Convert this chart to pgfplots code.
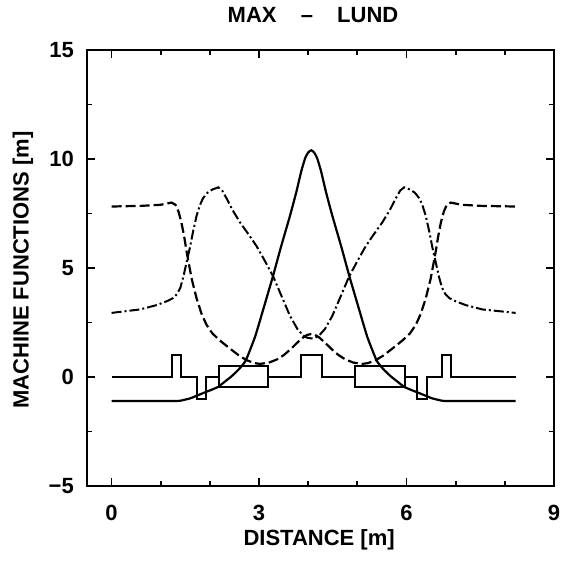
\documentclass[border=0pt]{standalone}
\usepackage{fontspec}
\setmainfont{Liberation Sans}
\usepackage{pgfplots}
\pgfplotsset{compat=1.18}
\begin{document}
\fontsize{22}{26}\selectfont\bfseries
\begin{tikzpicture}
\begin{axis}[
  scale only axis, width=467pt, height=436pt,
  xmin=-0.5, xmax=9, ymin=-5, ymax=15,
  xtick={0,3,6,9}, xticklabels={0,3,6,9},
  minor xtick={1,2,4,5,7,8},
  ytick={-5,0,5,10,15}, yticklabels={−5,0,5,10,15},
  minor ytick={-2.5,2.5,7.5,12.5},
  tick pos=both, tick align=inside,
  major tick length=8pt, minor tick length=5pt,
  every tick/.style={black, line width=1.8pt},
  axis line style={line width=2pt},
  font=\fontsize{22}{26}\selectfont\bfseries,
  tick label style={font=\fontsize{22}{26}\selectfont\bfseries, inner sep=0pt},
  xticklabel style={yshift=-19pt},
  yticklabel style={xshift=-13pt},
  title={MAX\hspace{1.1em}–\hspace{1.1em}LUND},
  title style={at={(axis description cs:0.484,1.0665)}, anchor=center, inner sep=0pt},
  xlabel={DISTANCE [m]},
  xlabel style={at={(axis description cs:0.497,-0.124)}, anchor=center},
  ylabel={MACHINE FUNCTIONS [m]},
  ylabel style={at={(axis description cs:-0.137,0.495)}, anchor=center},
  clip=false,
]
% lattice (magnet layout)
\addplot[black, line width=2pt, line join=miter] coordinates {
(0,0) (1.23,0) (1.23,1) (1.41,1) (1.41,0) (1.73,0) (1.73,-1) (1.93,-1) (1.93,0)
(2.18,0) (2.18,0.5) (3.18,0.5) (3.18,-0.48) (2.18,-0.48) (2.18,0.5) (3.18,0.5) (3.18,0)
(3.85,0) (3.85,1) (4.28,1) (4.28,0)
(4.96,0) (4.96,0.5) (5.96,0.5) (5.96,-0.48) (4.96,-0.48) (4.96,0.5) (5.96,0.5) (5.96,0)
(6.22,0) (6.22,-1) (6.42,-1) (6.42,0) (6.73,0) (6.73,1) (6.91,1) (6.91,0) (8.22,0)
};
% solid curve (dispersion)
\addplot[black, line width=2.2pt, smooth, tension=0.3] coordinates {
(0,-1.1) (1.3,-1.1) (1.45,-1.06) (1.6,-0.98) (1.73,-0.86) (1.85,-0.75) (1.95,-0.66)
(2.05,-0.57) (2.17,-0.45) (2.3,-0.22) (2.45,0.05) (2.6,0.38) (2.72,0.72) (2.81,1.2)
(2.92,1.85) (3.02,2.6) (3.15,3.6) (3.28,4.6) (3.45,6.0) (3.63,7.4) (3.76,8.5)
(3.86,9.45) (3.94,10.05) (4.0,10.3) (4.06,10.4)
(4.12,10.3) (4.18,10.05) (4.26,9.45) (4.36,8.5) (4.49,7.4) (4.67,6.0) (4.84,4.6)
(4.97,3.6) (5.10,2.6) (5.20,1.85) (5.31,1.2) (5.40,0.72) (5.52,0.38) (5.67,0.05)
(5.82,-0.22) (5.95,-0.45) (6.07,-0.57) (6.17,-0.66) (6.27,-0.75) (6.39,-0.86)
(6.52,-0.98) (6.67,-1.06) (6.82,-1.1) (8.22,-1.1)
};
% dashed curve
\addplot[black, line width=2.2pt, dash pattern=on 10pt off 4pt] coordinates {
(0,7.82) (0.6,7.85) (1.0,7.9) (1.22,8.0) (1.3,7.9) (1.36,7.6) (1.42,7.1) (1.48,6.4)
(1.53,5.7) (1.63,4.5) (1.73,3.6) (1.83,2.9) (1.93,2.4) (2.05,2.0) (2.2,1.68)
(2.41,1.3) (2.6,0.97) (2.75,0.77) (2.9,0.64) (3.02,0.6) (3.2,0.66) (3.36,0.8)
(3.5,1.0) (3.63,1.25) (3.78,1.58) (3.9,1.82) (3.98,1.93) (4.06,1.97)
(4.14,1.93) (4.22,1.82) (4.34,1.58) (4.49,1.25) (4.62,1.0) (4.76,0.8) (4.92,0.66)
(5.10,0.6) (5.22,0.64) (5.37,0.77) (5.52,0.97) (5.71,1.3) (5.92,1.68) (6.07,2.0)
(6.19,2.4) (6.29,2.9) (6.39,3.6) (6.49,4.5) (6.59,5.7) (6.64,6.4) (6.70,7.1)
(6.76,7.6) (6.82,7.9) (6.90,8.0) (7.12,7.9) (7.52,7.85) (8.22,7.82)
};
% dash-dotted curve
\addplot[black, line width=2pt, dash pattern=on 10pt off 3pt on 2pt off 3pt] coordinates {
(0,2.94) (0.58,3.1) (0.92,3.3) (1.15,3.5) (1.25,3.62) (1.33,3.8) (1.4,4.1) (1.46,4.6)
(1.52,5.2) (1.59,5.9) (1.66,6.7) (1.73,7.4) (1.8,7.9) (1.86,8.2) (1.95,8.45)
(2.05,8.6) (2.17,8.7) (2.25,8.55) (2.35,8.15) (2.45,7.7) (2.61,7.1) (2.8,6.5)
(2.95,6.0) (3.1,5.4) (3.29,4.6) (3.45,3.75) (3.63,2.8) (3.78,2.2) (3.9,1.9)
(3.98,1.8) (4.06,1.77)
(4.14,1.8) (4.22,1.9) (4.34,2.2) (4.49,2.8) (4.67,3.75) (4.83,4.6) (5.02,5.4)
(5.17,6.0) (5.32,6.5) (5.51,7.1) (5.67,7.7) (5.77,8.15) (5.87,8.55) (5.95,8.7)
(6.07,8.6) (6.17,8.45) (6.26,8.2) (6.32,7.9) (6.39,7.4) (6.46,6.7) (6.53,5.9)
(6.60,5.2) (6.66,4.6) (6.72,4.1) (6.79,3.8) (6.87,3.62) (6.97,3.5) (7.20,3.3)
(7.54,3.1) (8.22,2.94)
};
\end{axis}
\pgfresetboundingbox
\path[use as bounding box] ([shift={(-87pt,-80pt)}]current axis.south west) rectangle ([shift={(7pt,50pt)}]current axis.north east);
\end{tikzpicture}
\end{document}
